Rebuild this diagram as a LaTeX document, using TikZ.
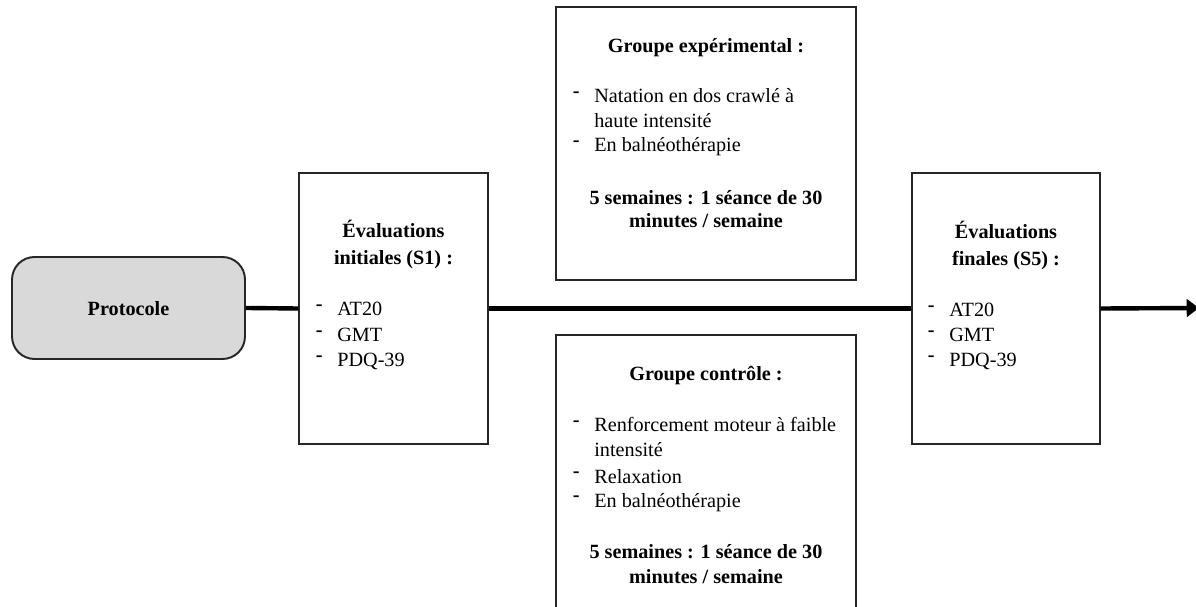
\documentclass[tikz,border=0pt]{standalone}
\usepackage{fontspec}
\setmainfont{Liberation Serif}
\usetikzlibrary{arrows.meta}
\definecolor{gristitre}{RGB}{217,217,217}
\tikzstyle{cadre}=[draw=black!85, line width=0.8pt, inner sep=0pt]
\tikzstyle{debut}=[cadre, fill=gristitre, line width=1.1pt, rounded corners=0.45cm]
\tikzstyle{texte}=[font=\fontsize{11.5}{14}\selectfont, inner sep=0pt, anchor=base west]
\tikzstyle{titre}=[texte, font=\fontsize{11.5}{14}\selectfont\bfseries, anchor=base]
\tikzstyle{fleche}=[line width=2.5pt]
\newcommand{\puce}[4]{% Syntax: {name}{x}{y}{text}, (x,y) = baseline start of the text
	\node[texte] (#1) at (#2,#3) {#4};
	\node[texte, anchor=base east] (#1-tiret) at ([xshift=-0.28cm]#1.base west) {\raisebox{3.4pt}{\bfseries -}};
}
\begin{document}
\begin{tikzpicture}[x=0.02cm, y=-0.02cm]
  \clip (0,0) rectangle (1196,607);
  % boites
  \node[debut, minimum width=4.66cm, minimum height=2.04cm] (proto) at (128.5,308) {};
  \node[cadre, minimum width=3.78cm, minimum height=5.42cm] (init) at (393.5,308.5) {};
  \node[cadre, minimum width=3.76cm, minimum height=5.42cm] (final) at (1006,308.5) {};
  \node[cadre, minimum width=6cm, minimum height=5.46cm] (exp) at (706,143.5) {};
  \node[cadre, minimum width=6cm, minimum height=6.1cm] (ctrl) at (706,487.5) {};
  \coordinate (fin) at (1199,308);
  % ligne du temps
  \draw[fleche] (proto.east) -- (init.west);
  \draw[fleche] (init.east) -- (final.west);
  \draw[fleche, -{Triangle[length=7pt,width=10pt]}] (final.east) -- (fin);
  % textes
  \node[titre] (proto-t) at (128.5,316) {Protocole};

  \node[titre] (init-t1) at (393.5,238) {Évaluations};
  \node[titre] (init-t2) at (393.5,265) {initiales (S1) :};
  \puce{init-a}{337}{316}{AT20}
  \puce{init-b}{337}{342}{GMT}
  \puce{init-c}{337}{367}{PDQ-39}

  \node[titre] (final-t1) at (1006,239) {Évaluations};
  \node[titre] (final-t2) at (1006,266) {finales (S5) :};
  \puce{final-a}{949}{317}{AT20}
  \puce{final-b}{949}{342}{GMT}
  \puce{final-c}{949}{367}{PDQ-39}

  \node[titre] (exp-t) at (706,53) {Groupe expérimental :};
  \puce{exp-a}{594}{103}{Natation en dos crawlé à}
  \node[texte] (exp-a2) at (594,128) {haute intensité};
  \puce{exp-b}{594}{152}{En balnéothérapie}
  \node[titre] (exp-f1) at (706,205) {5 semaines : 1 séance de 30};
  \node[titre] (exp-f2) at (706,228) {minutes / semaine};

  \node[titre] (ctrl-t) at (706,381) {Groupe contrôle :};
  \puce{ctrl-a}{594}{432}{Renforcement moteur à faible}
  \node[texte] (ctrl-a2) at (594,457) {intensité};
  \puce{ctrl-b}{594}{483}{Relaxation}
  \puce{ctrl-c}{594}{507}{En balnéothérapie}
  \node[titre] (ctrl-f1) at (706,558) {5 semaines : 1 séance de 30};
  \node[titre] (ctrl-f2) at (706,583) {minutes / semaine};
\end{tikzpicture}
\end{document}
